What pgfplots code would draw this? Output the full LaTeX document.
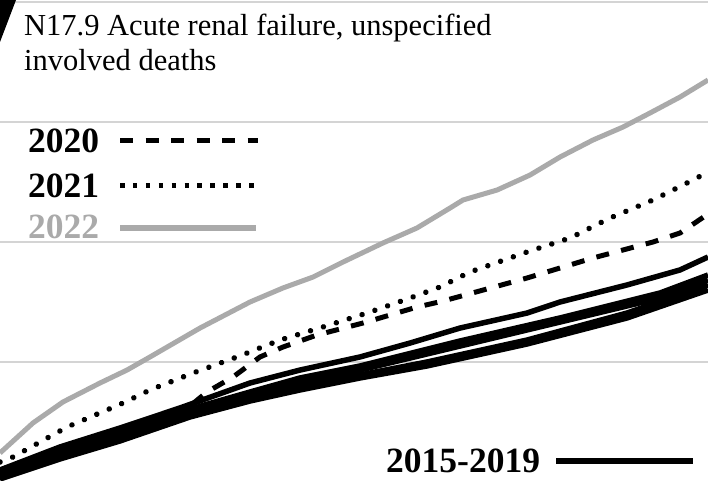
\documentclass[border=0pt]{standalone}
\usepackage{pgfplots}
\pgfplotsset{compat=1.18}
\usepackage{fontspec}
\setmainfont{Liberation Serif}
\definecolor{lightgrid}{HTML}{D4D4D4}
\definecolor{gray22}{HTML}{AAAAAA}
\begin{document}
\begin{tikzpicture}
\begin{axis}[
  scale only axis, width=708pt, height=480pt,
  xmin=0, xmax=708, ymin=0.0167, ymax=4.0167,
  axis line style={draw=none},
  xtick=\empty, ytick={1,2,3,4}, yticklabels={},
  major tick length=0pt, tick style={draw=none},
  ymajorgrids, grid style={lightgrid, line width=1.3pt},
  clip=true,
  every axis plot/.append style={line join=round},
]
\coordinate (SW) at (rel axis cs:0,0);
\coordinate (NE) at (rel axis cs:1,1);
% 2015-2019
\addplot[black, line width=5.5pt] coordinates {(0,0.1) (60,0.292) (120,0.45) (180,0.617) (250,0.825) (300,0.933) (360,1.042) (410,1.158) (460,1.283) (527,1.408) (560,1.5) (627,1.642) (680,1.767) (708,1.875)};
\addplot[black, line width=5.5pt] coordinates {(0,0.083) (60,0.267) (120,0.417) (180,0.583) (250,0.75) (300,0.867) (360,0.967) (460,1.175) (560,1.367) (660,1.575) (708,1.725)};
\addplot[black, line width=5.5pt] coordinates {(0,0.067) (60,0.242) (120,0.392) (180,0.55) (250,0.725) (300,0.825) (360,0.933) (460,1.133) (560,1.333) (660,1.533) (708,1.683)};
\addplot[black, line width=5.5pt] coordinates {(0,0.05) (60,0.217) (120,0.367) (190,0.567) (250,0.7) (300,0.8) (360,0.892) (427,1.0) (527,1.183) (627,1.408) (708,1.642)};
\addplot[black, line width=5.5pt] coordinates {(0,0.025) (60,0.192) (120,0.342) (190,0.542) (250,0.675) (300,0.767) (360,0.867) (427,0.967) (527,1.15) (627,1.367) (708,1.6)};
% 2020
\addplot[black, line width=5pt, dash pattern=on 13pt off 12.5pt] coordinates {(0,0.1) (60,0.267) (120,0.417) (190,0.633) (207,0.75) (233,0.875) (260,1.042) (283,1.125) (317,1.225) (363,1.325) (417,1.458) (443,1.508) (527,1.7) (593,1.867) (653,2.0) (680,2.075) (708,2.233)};
% 2021
\addplot[black, line width=5.5pt, line cap=round, dash pattern=on 0.01pt off 13.5pt] coordinates {(0,0.167) (13,0.208) (40,0.333) (67,0.458) (95,0.558) (123,0.658) (150,0.767) (193,0.908) (237,1.042) (280,1.183) (323,1.292) (367,1.408) (410,1.533) (440,1.625) (470,1.75) (527,1.917) (570,2.033) (610,2.2) (653,2.35) (693,2.517) (708,2.583)};
% 2022
\addplot[gray22, line width=5pt] coordinates {(0,0.242) (33,0.492) (63,0.667) (100,0.825) (127,0.933) (150,1.042) (200,1.283) (250,1.5) (283,1.617) (313,1.708) (343,1.833) (383,1.992) (417,2.117) (450,2.283) (463,2.35) (497,2.433) (530,2.558) (560,2.708) (593,2.85) (623,2.958) (650,3.075) (680,3.208) (708,3.35)};
% corner mark
\fill[black] (rel axis cs:0,1) -- (rel axis cs:0.0226,1) -- (rel axis cs:0,0.9125) -- cycle;
% title
\node[anchor=base west, inner sep=0pt, font=\fontsize{30.5}{36}\selectfont] at (axis cs:24,3.725) {N17.9 Acute renal failure, unspecified};
\node[anchor=base west, inner sep=0pt, font=\fontsize{30.5}{36}\selectfont] at (axis cs:24,3.433) {involved deaths};
% legend
\node[anchor=base west, inner sep=0pt, font=\fontsize{35.5}{40}\selectfont\bfseries] at (axis cs:28,2.75) {2020};
\draw[black, line width=5pt, dash pattern=on 13pt off 12.5pt] (axis cs:120,2.85) -- (axis cs:258,2.85);
\node[anchor=base west, inner sep=0pt, font=\fontsize{35.5}{40}\selectfont\bfseries] at (axis cs:28,2.367) {2021};
\draw[black, line width=5pt, dash pattern=on 4.5pt off 8.4pt] (axis cs:120,2.475) -- (axis cs:256,2.475);
\node[anchor=base west, inner sep=0pt, text=gray22, font=\fontsize{35.5}{40}\selectfont\bfseries] at (axis cs:28,2.033) {2022};
\draw[gray22, line width=5.5pt] (axis cs:120,2.117) -- (axis cs:256,2.117);
\node[anchor=base west, inner sep=0pt, font=\fontsize{35.5}{40}\selectfont\bfseries] at (axis cs:386,0.083) {2015-2019};
\draw[black, line width=6pt] (axis cs:556,0.175) -- (axis cs:693,0.175);
\end{axis}
\pgfresetboundingbox
\path (SW) rectangle (NE);
\end{tikzpicture}
\end{document}
